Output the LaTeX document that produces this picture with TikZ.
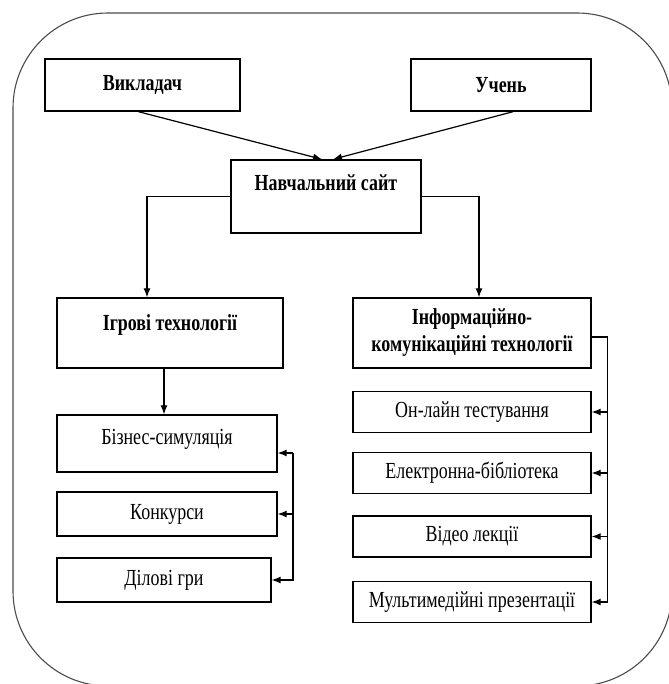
\documentclass[tikz,border=0pt]{standalone}
\usepackage{fontspec}
\setmainfont{Liberation Serif}[FakeStretch=0.78]
\usetikzlibrary{positioning, arrows.meta, calc}

\begin{document}
\begin{tikzpicture}[
        x=1pt, y=-1pt,
        >={Latex[length=9pt, width=7pt]},
        font=\fontsize{23}{27}\selectfont,
        box/.style={draw, line width=1.4pt, inner sep=0pt},
        head/.style={box, font=\fontsize{23}{27}\selectfont\bfseries},
        link/.style={->, line width=1.2pt},
    ]

    \useasboundingbox (0,0) rectangle (668,684);

    % Draw the outer frame
    \draw[black!70, line width=1.1pt, rounded corners=95pt] (13,13) rectangle (672,686);

    % Draw the top nodes
    \node[head, minimum width=195pt, minimum height=52pt] (vyklad) at (142.5,85) {Викладач};
    \node[head, minimum width=180pt, minimum height=52pt] (uchen) at (501,85) {Учень};
    \node[head, minimum width=190pt, text height=31pt, text depth=42pt] (sait) at (326,196.5) {Навчальний сайт};

    % Draw the two group nodes
    \node[head, minimum width=226pt, text height=32pt, text depth=38pt] (igrovi) at (170,333) {Ігрові технології};
    \node[head, align=center, minimum width=238pt, minimum height=70pt] (inform) at (472,333) {Інформаційно-\\комунікаційні технології};

    % Draw the left column nodes
    \node[box, minimum width=220pt, text height=29pt, text depth=28pt] (biznes) at (167,443.5) {Бізнес-симуляція};
    \node[box, minimum width=220pt, minimum height=44pt] (konkursy) at (167,514) {Конкурси};
    \node[box, minimum width=214pt, minimum height=44pt] (dilovi) at (164,580) {Ділові гри};

    % Draw the right column nodes
    \foreach \name/\y/\txt in {online/412/Он-лайн тестування, elektr/473/Електронна-бібліотека, video/536.5/Відео лекції, multi/602/Мультимедійні презентації}
        \node[box, minimum width=238pt, minimum height=41pt] (\name) at (472,\y) {\txt};

    % Connect the top nodes with the site
    \draw[link] ([xshift=-4pt]vyklad.south) -- ([xshift=-4pt]sait.north);
    \draw[link] ([xshift=12pt]uchen.south) -- ([xshift=7pt]sait.north);

    % Connect the site with the two groups
    \draw[link] (sait.west) -| ([xshift=-23pt]igrovi.north);
    \draw[link] (sait.east) -| ([xshift=7pt]inform.north);

    % Connect the game technologies with their items
    \draw[link] ([xshift=-6pt]igrovi.south) -- ([xshift=-6pt]igrovi.south |- biznes.north);
    \coordinate (lbus) at (293,453);
    \draw[link] (lbus) -- (lbus -| biznes.east);
    \draw[link] (lbus |- konkursy.east) -- (konkursy.east);
    \draw[link] (lbus) |- (dilovi.east);

    % Connect the ICT with their items
    \draw[link] ([yshift=-4pt]inform.east) -- ++(16,0) coordinate (rbus) |- (multi.east);
    \foreach \name in {online, elektr, video}
        \draw[link] (rbus |- \name.east) -- (\name.east);
\end{tikzpicture}
\end{document}
